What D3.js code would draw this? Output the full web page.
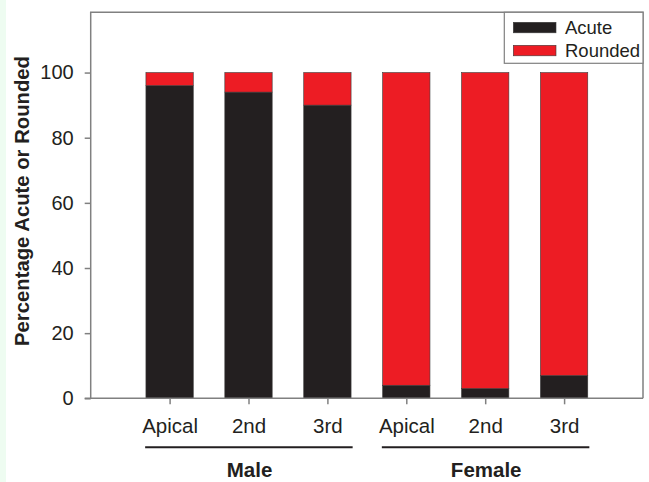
<!DOCTYPE html>
<html lang="en">
<head>
    <meta charset="UTF-8">
    <title>Percentage Acute or Rounded</title>
    <script src="https://cdnjs.cloudflare.com/ajax/libs/d3/7.8.5/d3.min.js"></script>
    <style>
        body {
            margin: 0;
            padding: 0;
            background-color: #ffffff;
        }
        #chart {
            width: 649px;
            height: 482px;
        }
        text {
            font-family: "Liberation Sans", Arial, sans-serif;
            fill: #231f20;
        }
    </style>
</head>
<body>
    <div id="chart"></div>

    <script>
        // chart data
        const positions = ["Apical", "2nd", "3rd", "Apical", "2nd", "3rd"];
        const sexes = ["Male", "Female"];
        const sexOfBar = [0, 0, 0, 1, 1, 1];
        const acute = [96, 94, 90, 4, 3, 7];
        const rounded = [4, 6, 10, 96, 97, 93];
        const seriesNames = ["Acute", "Rounded"];
        const seriesColors = ["#231f20", "#ed1c24"];
        const yTicks = [0, 20, 40, 60, 80, 100];

        const width = 649;
        const height = 482;
        const plot = {left: 90.7, right: 643, top: 12.3, bottom: 398.3};

        const svg = d3.select("#chart")
            .append("svg")
            .attr("width", width)
            .attr("height", height);

        // pale strip on the left edge
        svg.append("rect")
            .attr("x", 0).attr("y", 0)
            .attr("width", 6).attr("height", height)
            .attr("fill", "#eefcf1");

        const x = d3.scaleLinear()
            .domain([0, positions.length + 1])
            .range([plot.left, plot.right]);

        const y = d3.scaleLinear()
            .domain([0, 118.5])
            .range([plot.bottom, plot.top]);

        const rows = positions.map((p, i) => ({i: i, Acute: acute[i], Rounded: rounded[i]}));
        const stacked = d3.stack().keys(seriesNames)(rows);

        const barW = x(0.6) - x(0);

        // bars
        svg.append("g")
            .selectAll("g")
            .data(stacked)
            .enter().append("g")
            .attr("fill", (d, k) => seriesColors[k])
            .selectAll("rect")
            .data(d => d)
            .enter().append("rect")
            .attr("x", d => x(d.data.i + 1) - barW / 2)
            .attr("y", d => y(d[1]))
            .attr("width", barW)
            .attr("height", d => y(d[0]) - y(d[1]))
            .attr("stroke", "#3a3a3a")
            .attr("stroke-width", 0.6);

        // frame (top, left, right)
        svg.append("path")
            .attr("d", `M${plot.left},${plot.bottom}V${plot.top}H${plot.right}V${plot.bottom}`)
            .attr("fill", "none")
            .attr("stroke", "#808080")
            .attr("stroke-width", 1.5);

        // y axis
        const yAxis = d3.axisLeft(y)
            .tickValues(yTicks)
            .tickSize(6)
            .tickPadding(11);

        const yg = svg.append("g")
            .attr("transform", `translate(${plot.left},0)`)
            .call(yAxis);
        yg.select(".domain").remove();
        yg.selectAll(".tick line").attr("stroke", "#808080").attr("stroke-width", 1.5);
        yg.selectAll(".tick text")
            .style("font-size", "20px")
            .attr("fill", "#231f20");

        // x axis line and ticks
        svg.append("line")
            .attr("x1", plot.left - 6).attr("x2", plot.right)
            .attr("y1", plot.bottom).attr("y2", plot.bottom)
            .attr("stroke", "#808080")
            .attr("stroke-width", 1.5);

        const xAxis = d3.axisBottom(x)
            .tickValues(d3.range(1, positions.length + 1))
            .tickSize(6)
            .tickPadding(14)
            .tickFormat(v => positions[v - 1]);

        const xg = svg.append("g")
            .attr("transform", `translate(0,${plot.bottom})`)
            .call(xAxis);
        xg.select(".domain").remove();
        xg.selectAll(".tick line").attr("stroke", "#808080").attr("stroke-width", 1.5);
        xg.selectAll(".tick text")
            .style("font-size", "20.5px")
            .attr("fill", "#231f20");

        // group underlines and labels
        const groups = sexes.map((s, g) => {
            const idx = sexOfBar.map((v, i) => v === g ? i + 1 : null).filter(v => v !== null);
            return {name: s, first: d3.min(idx), last: d3.max(idx), mid: d3.mean(idx)};
        });

        svg.append("g")
            .selectAll("line")
            .data(groups)
            .enter().append("line")
            .attr("x1", d => x(d.first - 0.31))
            .attr("x2", d => x(d.last + 0.32))
            .attr("y1", 447.3)
            .attr("y2", 447.3)
            .attr("stroke", "#231f20")
            .attr("stroke-width", 2);

        svg.append("g")
            .selectAll("text")
            .data(groups)
            .enter().append("text")
            .attr("x", d => x(d.mid) + 1)
            .attr("y", 476.7)
            .attr("text-anchor", "middle")
            .style("font-size", "20.5px")
            .style("font-weight", "bold")
            .text(d => d.name);

        // y label
        svg.append("text")
            .attr("transform", "translate(29,201) rotate(-90)")
            .attr("text-anchor", "middle")
            .style("font-size", "20.3px")
            .style("font-weight", "bold")
            .text("Percentage Acute or Rounded");

        // legend
        const legend = svg.append("g");
        legend.append("rect")
            .attr("x", 504.3).attr("y", plot.top)
            .attr("width", plot.right - 504.3).attr("height", 51)
            .attr("fill", "#ffffff")
            .attr("stroke", "#808080")
            .attr("stroke-width", 1.2);

        const item = legend.selectAll(".item")
            .data(seriesNames)
            .enter().append("g")
            .attr("class", "item")
            .attr("transform", (d, k) => `translate(513.3,${22.3 + k * 23})`);

        item.append("rect")
            .attr("width", 42.7)
            .attr("height", 10.5)
            .attr("fill", (d, k) => seriesColors[k])
            .attr("stroke", "#3a3a3a")
            .attr("stroke-width", 0.6);

        item.append("text")
            .attr("x", 51.7)
            .attr("y", 12)
            .style("font-size", "18.5px")
            .text(d => d);
    </script>
</body>
</html>
